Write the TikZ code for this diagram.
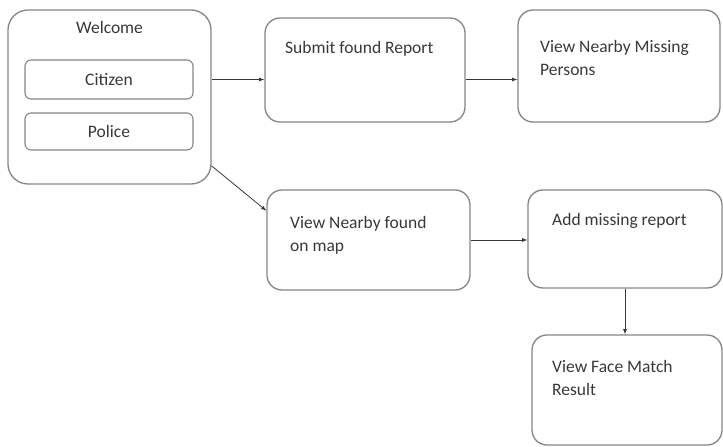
\documentclass[tikz,border=0pt]{standalone}
\usepackage{fontspec}
\setmainfont{Carlito}
\usepackage{tikz}
\usetikzlibrary{positioning}
\definecolor{boxgray}{HTML}{858585}
\definecolor{txtgray}{HTML}{383838}

\begin{document}
\begin{tikzpicture}[x=1pt,y=-1pt,
	box/.style={draw=boxgray,line width=1.3pt,rounded corners=15pt},
	smallbox/.style={draw=boxgray,line width=1.1pt,rounded corners=6pt,minimum width=168pt},
	lbl/.style={text=txtgray,font=\fontsize{17.5}{23.5}\selectfont,align=left,inner sep=0pt},
	arr/.style={-latex,line width=0.8pt,draw=txtgray}]
		\useasboundingbox (0,0) rectangle (723,447);
		% start screen
		\node[box,rounded corners=20pt,minimum width=203pt,minimum height=174pt] (welcome) at (109.5,97) {};
		\node[lbl] (welcome-t) at (109.5,27) {Welcome};
		\node[smallbox,minimum height=39pt,lbl,inner sep=0pt] (citizen) at (109,79.5) {Citizen};
		\node[smallbox,minimum height=37pt,lbl,inner sep=0pt] (police) at (109,131.5) {Police};
		% screens
		\node[box,minimum width=200pt,minimum height=104pt] (report) at (365,70) {};
		\node[box,minimum width=202pt,minimum height=112pt] (missing) at (619,66) {};
		\node[box,minimum width=203pt,minimum height=100pt] (map) at (368.5,240) {};
		\node[box,minimum width=194pt,minimum height=98pt] (addrep) at (625,239) {};
		\node[box,minimum width=190pt,minimum height=110pt] (face) at (627,390) {};
		% texts (base = last line)
		\node[lbl,anchor=base west] (report-t) at (285,53) {Submit found Report};
		\node[lbl,anchor=base west] (missing-t) at (540,75.5) {View Nearby Missing\\Persons};
		\node[lbl,anchor=base west] (map-t) at (290,251.5) {View Nearby found\\on map};
		\node[lbl,anchor=base west] (addrep-t) at (552,225) {Add missing report};
		\node[lbl,anchor=base west] (face-t) at (552,395.5) {View Face Match\\Result};
		% arrows
		\draw[arr] (welcome.east |- citizen) -- (report.west |- citizen);
		\draw[arr] (report.east |- citizen) -- (missing.west |- citizen);
		\draw[arr] (welcome.-34.6) -- (map.164.6);
		\draw[arr] (map.east) -- (addrep.west |- map.east);
		\draw[arr] (addrep.south) -- (addrep.south |- face.north);
\end{tikzpicture}
\end{document}
